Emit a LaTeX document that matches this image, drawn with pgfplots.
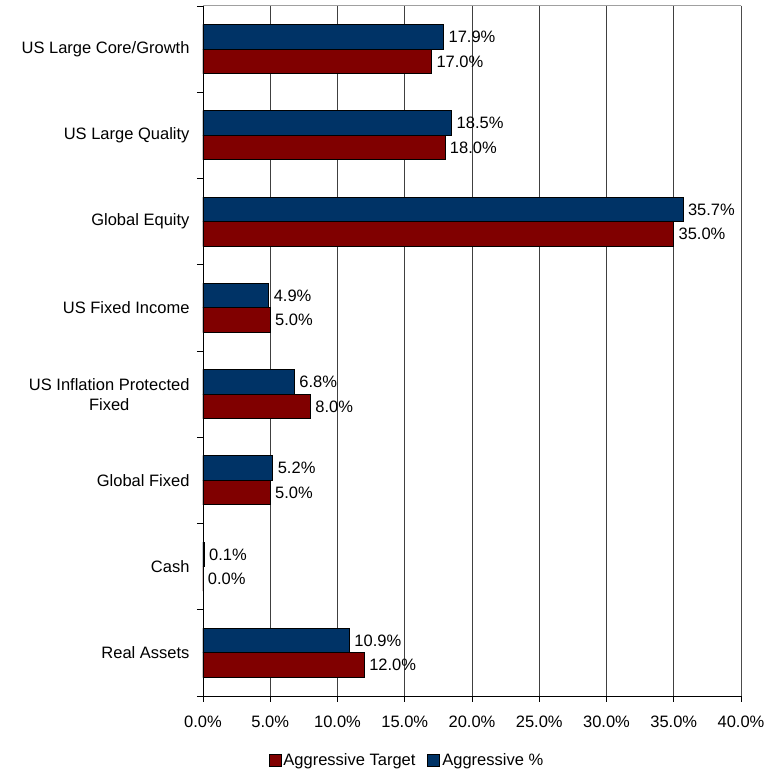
\documentclass[border=0pt]{standalone}
\usepackage{pgfplots}
\pgfplotsset{compat=1.18}
\usepackage{fontspec}
\setmainfont{Liberation Sans}

\definecolor{targetred}{HTML}{800000}
\definecolor{actualblue}{HTML}{003366}
\definecolor{framegray}{HTML}{A0A0A0}

% Aggressive allocation: target vs. actual, top category first at y=7
\pgfplotstableread{
y  target actual
7  17.0   17.9
6  18.0   18.5
5  35.0   35.7
4  5.0    4.9
3  8.0    6.8
2  5.0    5.2
1  0.0    0.1
0  12.0   10.9
}\alloc

\begin{document}
\begin{tikzpicture}
\begin{axis}[
  scale only axis,
  width=538pt, height=690pt,
  xbar,
  bar width=24.5pt,
  xmin=0, xmax=40,
  ymin=-0.5, ymax=7.5,
  font=\fontsize{16.5pt}{20pt}\selectfont,
  /pgf/number format/assume math mode=true,
  xtick={0,5,...,40},
  xticklabel={\pgfmathprintnumber[fixed,fixed zerofill,precision=1]{\tick}\%},
  x tick label style={yshift=-10pt},
  ytick={0,...,7},
  yticklabels={Real Assets,Cash,Global Fixed,{US Inflation Protected\\Fixed},US Fixed Income,Global Equity,US Large Quality,US Large Core/Growth},
  y tick label style={align=center, xshift=-4pt},
  minor ytick={-0.5,0.5,...,7.5},
  major y tick style={draw=none},
  minor tick length=6pt,
  major tick length=6pt,
  tick align=outside,
  tick style={black, line width=0.8pt},
  xmajorgrids,
  major grid style={black!75, line width=0.7pt},
  axis x line*=bottom,
  axis y line*=left,
  axis line style={black, line width=0.9pt, -},
  nodes near coords={\pgfmathprintnumber[fixed,fixed zerofill,precision=1]{\pgfplotspointmeta}\%},
  point meta=x,
  every node near coord/.append style={font=\fontsize{16.5pt}{20pt}\selectfont, anchor=west, xshift=1pt},
  legend columns=2,
  legend style={draw=none, at={(0.379,-0.0928)}, anchor=center,
    font=\fontsize{16.5pt}{20pt}\selectfont,
    /tikz/every even column/.append style={column sep=10pt},
    inner sep=0pt},
  legend image code/.code={\draw[#1, draw=black, line width=0.9pt] (0pt,-6pt) rectangle (12pt,6pt);},
]
\addplot[fill=targetred, draw=black, line width=1.1pt, bar shift=-12.25pt] table[x=target, y=y] {\alloc};
\addlegendentry{Aggressive Target}
\addplot[fill=actualblue, draw=black, line width=1.1pt, bar shift=12.25pt] table[x=actual, y=y] {\alloc};
\addlegendentry{Aggressive \%}
\draw[framegray, line width=1pt] (rel axis cs:0,1) -- (rel axis cs:1,1) -- (rel axis cs:1,0);
\end{axis}
\pgfresetboundingbox
\path ([shift={(-203pt,-77pt)}]current axis.south west) rectangle ([shift={(37pt,6pt)}]current axis.north east);
\end{tikzpicture}
\end{document}
